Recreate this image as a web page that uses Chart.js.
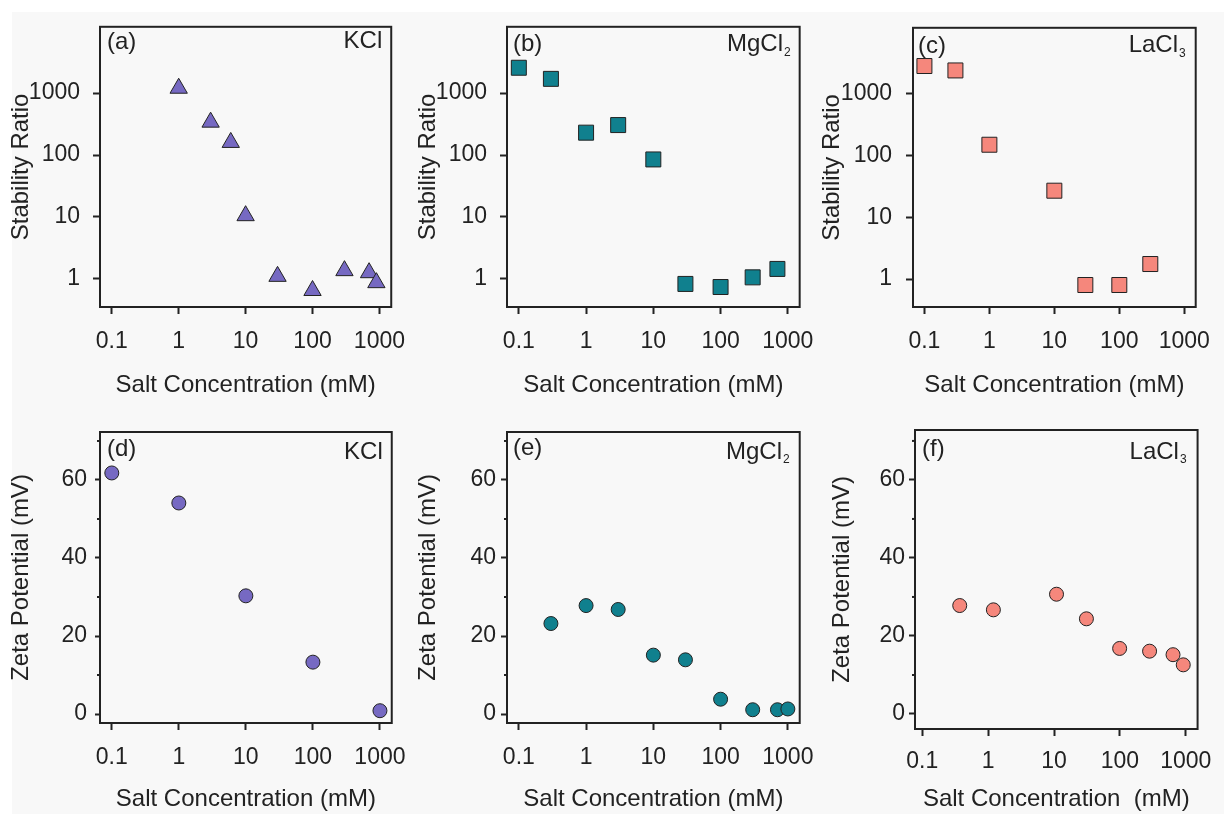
<!DOCTYPE html>
<html>
<head>
<meta charset="utf-8">
<title>Stability ratio and zeta potential</title>
<script src="https://cdn.jsdelivr.net/npm/chart.js"></script>
<style>
    html, body {
        margin: 0;
        padding: 0;
        background: #ffffff;
    }
    body {
        width: 1224px;
        height: 814px;
        position: relative;
        overflow: hidden;
    }
    .sheet {
        position: absolute;
        left: 12px;
        top: 12px;
        right: 0;
        bottom: 0;
        background: #f8f8f8;
    }
    .panel {
        position: absolute;
    }
</style>
</head>
<body>
<div class="sheet"></div>
<div class="panel" id="pa"><canvas id="chartA"></canvas></div>
<div class="panel" id="pb"><canvas id="chartB"></canvas></div>
<div class="panel" id="pc"><canvas id="chartC"></canvas></div>
<div class="panel" id="pd"><canvas id="chartD"></canvas></div>
<div class="panel" id="pe"><canvas id="chartE"></canvas></div>
<div class="panel" id="pf"><canvas id="chartF"></canvas></div>

<script>
    // tick values
    const concTicks = [0.1, 1, 10, 100, 1000];
    const ratioTicks = [1, 10, 100, 1000];
    const zetaTicks = [0, 20, 40, 60];
    const zetaMinorTicks = [10, 30, 50, 70];

    // (a) KCl stability ratio
    const kclRatioConc = [1, 3, 6, 10, 30, 100, 300, 700, 900];
    const kclRatio = [1200, 340, 160, 10.5, 1.1, 0.65, 1.36, 1.26, 0.87];

    // (b) MgCl2 stability ratio
    const mgRatioConc = [0.1, 0.3, 1, 3, 10, 30, 100, 300, 700];
    const mgRatio = [2570, 1700, 230, 305, 85, 0.83, 0.74, 1.06, 1.45];

    // (c) LaCl3 stability ratio
    const laRatioConc = [0.1, 0.3, 1, 10, 30, 100, 300];
    const laRatio = [2830, 2400, 150, 27, 0.8, 0.8, 1.75];

    // (d) KCl zeta potential
    const kclZetaConc = [0.1, 1, 10, 100, 1000];
    const kclZeta = [61.8, 54.1, 30.3, 13.3, 0.85];

    // (e) MgCl2 zeta potential
    const mgZetaConc = [0.3, 1, 3, 10, 30, 100, 300, 700, 1000];
    const mgZeta = [23.2, 27.8, 26.8, 15.1, 13.9, 3.8, 1.1, 1.1, 1.3];

    // (f) LaCl3 zeta potential
    const laZetaConc = [0.37, 1.2, 10.9, 31, 99, 282, 640, 915];
    const laZeta = [27.8, 26.7, 30.7, 24.4, 16.8, 16.1, 15.2, 12.6];

    const FONT = '"Liberation Sans", Arial, Helvetica, sans-serif';
    const INK = '#222222';
    const PURPLE = '#7669c2';
    const TEAL = '#10808e';
    const SALMON = '#f5877c';

    // frame round the plot area, minor ticks, panel tag and salt name
    const panelDecor = {
        id: 'panelDecor',
        beforeDatasetsDraw(chart, args, opts) {
            const ctx = chart.ctx;
            const a = chart.chartArea;
            ctx.save();
            ctx.strokeStyle = INK;
            ctx.lineWidth = 2;
            ctx.strokeRect(a.left, a.top, a.right - a.left, a.bottom - a.top);
            if (opts.minor) {
                const ys = chart.scales.y;
                opts.minor.forEach(v => {
                    const py = ys.getPixelForValue(v);
                    ctx.beginPath();
                    ctx.moveTo(a.left - 3, py);
                    ctx.lineTo(a.left, py);
                    ctx.stroke();
                });
            }
            ctx.restore();
        },
        afterDraw(chart, args, opts) {
            const ctx = chart.ctx;
            const a = chart.chartArea;
            ctx.save();
            ctx.fillStyle = INK;
            ctx.textBaseline = 'middle';
            ctx.font = '24px ' + FONT;
            ctx.textAlign = 'left';
            ctx.fillText(opts.tag, a.left + opts.tagDx, a.top + opts.tagDy);

            let x = a.right - opts.saltDx;
            const y = a.top + opts.saltDy;
            ctx.textAlign = 'right';
            if (opts.sub) {
                ctx.font = '12px ' + FONT;
                ctx.fillText(opts.sub, x, y + 8);
                x -= ctx.measureText(opts.sub).width + 1;
                ctx.font = '24px ' + FONT;
            }
            ctx.fillText(opts.salt, x, y);
            ctx.restore();
        }
    };

    function points(xs, ys) {
        return xs.map((x, i) => ({x: x, y: ys[i]}));
    }

    function makePanel(p) {
        const holder = document.getElementById(p.holder);
        holder.style.left = p.box[0] + 'px';
        holder.style.top = p.box[1] + 'px';
        holder.style.width = p.box[2] + 'px';
        holder.style.height = p.box[3] + 'px';

        const logY = p.yType === 'logarithmic';

        new Chart(document.getElementById(p.canvas), {
            type: 'scatter',
            data: {
                datasets: [{
                    data: points(p.xs, p.ys),
                    pointStyle: p.marker,
                    pointRadius: p.radius,
                    pointHoverRadius: p.radius,
                    pointBackgroundColor: p.color,
                    pointBorderColor: INK,
                    pointBorderWidth: 1
                }]
            },
            options: {
                responsive: true,
                maintainAspectRatio: false,
                animation: false,
                events: [],
                layout: {padding: {top: p.padTop, right: p.padRight, left: 0, bottom: 0}},
                plugins: {
                    legend: {display: false},
                    tooltip: {enabled: false},
                    panelDecor: {
                        tag: p.tag, salt: p.salt, sub: p.sub,
                        tagDx: p.tagPos[0], tagDy: p.tagPos[1],
                        saltDx: p.saltPos[0], saltDy: p.saltPos[1],
                        minor: logY ? null : zetaMinorTicks
                    }
                },
                scales: {
                    x: {
                        type: 'logarithmic',
                        position: 'bottom',
                        min: p.xRange[0],
                        max: p.xRange[1],
                        afterBuildTicks: s => { s.ticks = concTicks.map(v => ({value: v})); },
                        afterFit: s => { s.height = p.xH; },
                        border: {display: false},
                        grid: {drawOnChartArea: false, drawTicks: true, tickLength: 7, tickWidth: 2, tickColor: INK},
                        ticks: {
                            autoSkip: false, maxRotation: 0, padding: p.xPad,
                            color: INK, font: {family: FONT, size: 23},
                            callback: v => String(v)
                        },
                        title: {
                            display: true, text: p.xTitle, color: INK,
                            font: {family: FONT, size: 24},
                            padding: {top: 0, bottom: 0}
                        }
                    },
                    y: {
                        type: p.yType,
                        position: 'left',
                        min: p.yRange[0],
                        max: p.yRange[1],
                        afterBuildTicks: s => { s.ticks = (logY ? ratioTicks : zetaTicks).map(v => ({value: v})); },
                        afterFit: s => { s.width = p.yW; },
                        border: {display: false},
                        grid: {drawOnChartArea: false, drawTicks: true, tickLength: p.yTick, tickWidth: 2, tickColor: INK},
                        ticks: {
                            autoSkip: false, padding: p.yPad,
                            color: INK, font: {family: FONT, size: 23},
                            callback: v => String(v)
                        },
                        title: {
                            display: true, text: logY ? 'Stability Ratio' : 'Zeta Potential (mV)', color: INK,
                            font: {family: FONT, size: 24},
                            padding: {top: p.yTitlePad, bottom: 0}
                        }
                    }
                }
            },
            plugins: [panelDecor]
        });
    }

    const ratioRange = [0.352, 11780];
    const concRange = [0.0667, 1500];

    makePanel({
        holder: 'pa', canvas: 'chartA', box: [0, 0, 420, 400],
        padTop: 14, padRight: 24, yW: 100, xH: 93,
        xs: kclRatioConc, ys: kclRatio, marker: 'triangle', radius: 10, color: PURPLE,
        yType: 'logarithmic', yRange: ratioRange, xRange: concRange,
        yTick: 7, yPad: 13, yTitlePad: 7, xPad: 14,
        xTitle: 'Salt Concentration (mM)',
        tag: '(a)', salt: 'KCl', sub: '', tagPos: [7, 16], saltPos: [9, 15]
    });

    makePanel({
        holder: 'pb', canvas: 'chartB', box: [404, 0, 424, 400],
        padTop: 14, padRight: 27, yW: 103, xH: 93,
        xs: mgRatioConc, ys: mgRatio, marker: 'rect', radius: 10.6, color: TEAL,
        yType: 'logarithmic', yRange: ratioRange, xRange: concRange,
        yTick: 7, yPad: 13, yTitlePad: 10, xPad: 13.5,
        xTitle: 'Salt Concentration (mM)',
        tag: '(b)', salt: 'MgCl', sub: '2', tagPos: [6, 18], saltPos: [9, 18]
    });

    makePanel({
        holder: 'pc', canvas: 'chartC', box: [808, 0, 416, 400],
        padTop: 14, padRight: 16, yW: 105, xH: 93,
        xs: laRatioConc, ys: laRatio, marker: 'rect', radius: 10.6, color: SALMON,
        yType: 'logarithmic', yRange: ratioRange, xRange: concRange,
        yTick: 7, yPad: 14, yTitlePad: 10, xPad: 13.5,
        xTitle: 'Salt Concentration (mM)',
        tag: '(c)', salt: 'LaCl', sub: '3', tagPos: [5, 19], saltPos: [10, 18]
    });

    makePanel({
        holder: 'pd', canvas: 'chartD', box: [0, 400, 420, 414],
        padTop: 32, padRight: 24, yW: 100, xH: 91,
        xs: kclZetaConc, ys: kclZeta, marker: 'circle', radius: 7, color: PURPLE,
        yType: 'linear', yRange: [-2.3, 72.3], xRange: concRange,
        yTick: 5, yPad: 8, yTitlePad: 7, xPad: 13.5,
        xTitle: 'Salt Concentration (mM)',
        tag: '(d)', salt: 'KCl', sub: '', tagPos: [7, 17], saltPos: [9, 20]
    });

    makePanel({
        holder: 'pe', canvas: 'chartE', box: [404, 400, 424, 414],
        padTop: 32, padRight: 26, yW: 103, xH: 91,
        xs: mgZetaConc, ys: mgZeta, marker: 'circle', radius: 7, color: TEAL,
        yType: 'linear', yRange: [-2.3, 72.3], xRange: concRange,
        yTick: 6, yPad: 5, yTitlePad: 10, xPad: 13.5,
        xTitle: 'Salt Concentration (mM)',
        tag: '(e)', salt: 'MgCl', sub: '2', tagPos: [6, 16], saltPos: [10, 20]
    });

    makePanel({
        holder: 'pf', canvas: 'chartF', box: [808, 400, 416, 414],
        padTop: 30, padRight: 15, yW: 107, xH: 85,
        xs: laZetaConc, ys: laZeta, marker: 'circle', radius: 7, color: SALMON,
        yType: 'linear', yRange: [-3.85, 72.8], xRange: [0.0775, 1510],
        yTick: 6, yPad: 4, yTitlePad: 20, xPad: 12,
        xTitle: 'Salt Concentration  (mM)',
        tag: '(f)', salt: 'LaCl', sub: '3', tagPos: [7, 19], saltPos: [11, 22]
    });
</script>
</body>
</html>
